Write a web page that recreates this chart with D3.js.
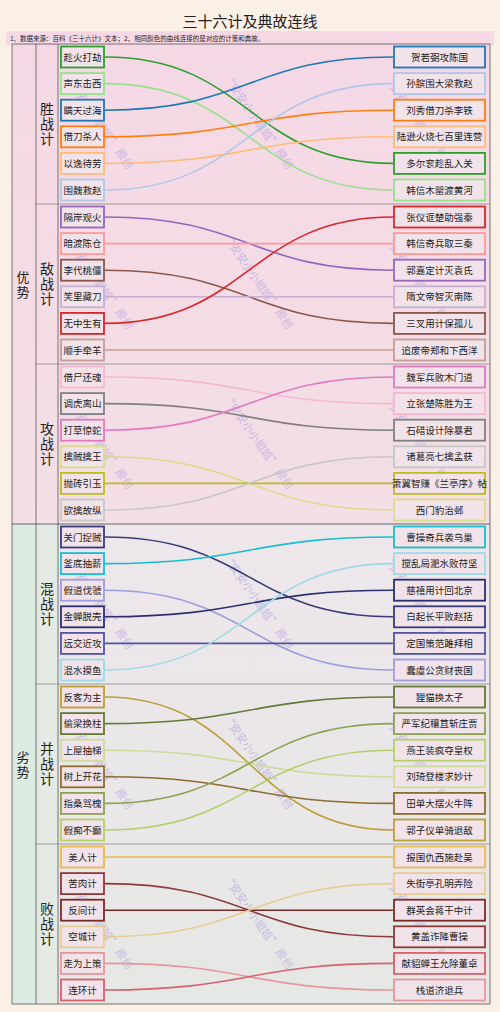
<!DOCTYPE html>
<html><head><meta charset="utf-8">
<script src="https://cdn.jsdelivr.net/npm/d3@7"></script>
<style>body{margin:0;background:#fbf0e6}text{font-family:"Noto Sans CJK SC",sans-serif}</style>
</head><body>
<script>
var sides = ["优势", "劣势"];
var groups = ["胜战计", "敌战计", "攻战计", "混战计", "并战计", "败战计"];
var stratagems = [
  ["趁火打劫", "声东击西", "瞒天过海", "借刀杀人", "以逸待劳", "围魏救赵"],
  ["隔岸观火", "暗渡陈仓", "李代桃僵", "笑里藏刀", "无中生有", "顺手牵羊"],
  ["借尸还魂", "调虎离山", "打草惊蛇", "擒贼擒王", "抛砖引玉", "欲擒故纵"],
  ["关门捉贼", "釜底抽薪", "假道伐虢", "金蝉脱壳", "远交近攻", "混水摸鱼"],
  ["反客为主", "偷梁换柱", "上屋抽梯", "树上开花", "指桑骂槐", "假痴不癫"],
  ["美人计", "苦肉计", "反间计", "空城计", "走为上策", "连环计"]
];
var stories = [
  ["贺若弼攻陈国", "孙膑围大梁救赵", "刘秀借刀杀李铁", "陆逊火烧七百里连营", "多尔衮趁乱入关", "韩信木罂渡黄河"],
  ["张仪诓楚助强秦", "韩信奇兵取三秦", "郭嘉定计灭袁氏", "隋文帝智灭南陈", "三叉用计保孤儿", "追废帝郑和下西洋"],
  ["魏军兵败木门道", "立张楚陈胜为王", "石碏设计除暴君", "诸葛亮七擒孟获", "萧翼智赚《兰亭序》帖", "西门豹治邺"],
  ["曹操奇兵袭乌巢", "搅乱局淝水败苻坚", "慈禧用计回北京", "白起长平败赵括", "定国策范雎拜相", "蠢虞公贪财丧国"],
  ["狸猫换太子", "严军纪穰苴斩庄贾", "燕王装疯夺皇权", "刘琦登楼求妙计", "田单大摆火牛阵", "郭子仪单骑退敌"],
  ["报国仇西施赴吴", "失街亭孔明弄险", "群英会蒋干中计", "黄盖诈降曹操", "献貂蝉王允除董卓", "栈道济退兵"]
];
// index of the story each stratagem links to
var links = [
  [4, 5, 0, 2, 3, 1],
  [2, 1, 4, 3, 0, 5],
  [1, 2, 0, 5, 4, 3],
  [3, 0, 5, 2, 4, 1],
  [5, 0, 3, 4, 1, 2],
  [0, 3, 2, 1, 5, 4]
];
var colors = [
  ["#2ca02c", "#98df8a", "#1f77b4", "#ff7f0e", "#ffbb78", "#aec7e8"],
  ["#9467bd", "#ff9896", "#8c564b", "#c5b0d5", "#d62728", "#c49c94"],
  ["#f7b6d2", "#7f7f7f", "#e377c2", "#dbdb8d", "#bcbd22", "#c7c7c7"],
  ["#393b79", "#17becf", "#9c9ede", "#2b2f6e", "#5254a3", "#9edae5"],
  ["#bd9e39", "#637939", "#cedb9c", "#8c6d31", "#8ca252", "#b5cf6b"],
  ["#e7ba52", "#8c3a3a", "#7b2a2a", "#e7cb94", "#e7969c", "#d6616b"]
];

var W = 500, H = 1012, top0 = 44, gh = 160, rowH = 26.6;
var svg = d3.select("body").append("svg").attr("width", W).attr("height", H);
var defs = svg.append("defs");
var g1 = defs.append("linearGradient").attr("id", "gTop").attr("x1", 0).attr("x2", 0).attr("y1", 0).attr("y2", 1);
g1.append("stop").attr("offset", 0).attr("stop-color", "#f6d8e5");
g1.append("stop").attr("offset", 1).attr("stop-color", "#f3dfe6");
var g2 = defs.append("linearGradient").attr("id", "gBot").attr("x1", 0).attr("x2", 0).attr("y1", 0).attr("y2", 1);
g2.append("stop").attr("offset", 0).attr("stop-color", "#eee6eb");
g2.append("stop").attr("offset", 1).attr("stop-color", "#e6e8e5");

svg.append("rect").attr("width", W).attr("height", H).attr("fill", "#fbf0e6");
svg.append("text").attr("x", 250).attr("y", 27).attr("text-anchor", "middle")
  .attr("font-size", 15).attr("fill", "#222").text("三十六计及典故连线");
svg.append("rect").attr("x", 6).attr("y", 31).attr("width", 488).attr("height", 14).attr("fill", "#f6d8e5");
svg.append("text").attr("x", 10).attr("y", 41).attr("font-size", 6.5).attr("fill", "#222")
  .text("1、数据来源：百科《三十六计》文本；2、相同颜色的曲线连接的是对应的计策和典故。");

var y = d3.scaleLinear().domain([0, 6]).range([top0, top0 + 6 * gh]);
var rowY = function (gi, ri) { return y(gi) + 13 + ri * rowH; };

// backgrounds
svg.append("rect").attr("x", 12).attr("y", y(0)).attr("width", 478).attr("height", 3 * gh).attr("fill", "url(#gTop)");
svg.append("rect").attr("x", 12).attr("y", y(3)).attr("width", 478).attr("height", 3 * gh).attr("fill", "url(#gBot)");
svg.append("rect").attr("x", 12).attr("y", y(3)).attr("width", 24).attr("height", 3 * gh).attr("fill", "#dcece3");
svg.append("rect").attr("x", 36).attr("y", y(3)).attr("width", 22).attr("height", 3 * gh).attr("fill", "#e4ebe4");

// watermarks
var wm = [];
groups.forEach(function (g, gi) { [95, 255, 415].forEach(function (x) { wm.push({x: x, y: y(gi) + 80}); }); });
svg.selectAll(".wm").data(wm).enter().append("text")
  .attr("transform", function (d) { return "translate(" + d.x + "," + d.y + ") rotate(55)"; })
  .attr("text-anchor", "middle").attr("font-size", 11).attr("fill", "#b9a9e0").attr("opacity", 0.7)
  .text("“安安小小姐姐” 原创");

// grid lines
var line = function (x1, y1, x2, y2, c) {
  svg.append("line").attr("x1", x1).attr("y1", y1).attr("x2", x2).attr("y2", y2).attr("stroke", c || "#555").attr("stroke-width", 0.8);
};
line(12, y(0), 490, y(0)); line(12, y(6), 490, y(6));
line(12, y(0), 12, y(6)); line(490, y(0), 490, y(6));
line(36, y(0), 36, y(6)); line(58, y(0), 58, y(6));
d3.range(1, 6).forEach(function (i) { line(i === 3 ? 12 : 36, y(i), 490, y(i), i === 3 ? "#444" : "#888"); });

sides.forEach(function (s, i) {
  svg.append("text").attr("x", 23).attr("font-size", 13).attr("text-anchor", "middle").attr("fill", "#222")
    .selectAll("tspan").data(s.split("")).enter().append("tspan")
    .attr("x", 23).attr("y", function (d, k) { return y(i * 3 + 1.5) - 2 + k * 15; }).text(function (d) { return d; });
});
groups.forEach(function (g, gi) {
  svg.append("text").attr("font-size", 14).attr("text-anchor", "middle").attr("fill", "#222")
    .selectAll("tspan").data(g.split("")).enter().append("tspan")
    .attr("x", 47).attr("y", function (d, k) { return y(gi + 0.5) - 10 + k * 15; }).text(function (d) { return d; });
});

var link = d3.linkHorizontal();
var items = [];
stratagems.forEach(function (row, gi) {
  row.forEach(function (s, ri) {
    items.push({gi: gi, ri: ri, name: s, story: stories[gi][links[gi][ri]], si: links[gi][ri], color: colors[gi][ri]});
  });
});

svg.selectAll(".lk").data(items).enter().append("path")
  .attr("d", function (d) { return link({source: [105, rowY(d.gi, d.ri)], target: [393, rowY(d.gi, d.si)]}); })
  .attr("fill", "none").attr("stroke", function (d) { return d.color; }).attr("stroke-width", 1.6);

var box = function (cls, x0, w, yf, tf) {
  var sel = svg.selectAll("." + cls).data(items).enter().append("g");
  sel.append("rect").attr("x", x0).attr("y", function (d) { return yf(d) - 10.5; })
    .attr("width", w).attr("height", 21).attr("fill", "#f1e3e9")
    .attr("stroke", function (d) { return d.color; }).attr("stroke-width", 1.8);
  sel.append("text").attr("x", x0 + w / 2).attr("y", function (d) { return yf(d) + 3.5; })
    .attr("text-anchor", "middle").attr("font-size", 9.5).attr("fill", "#222").text(tf);
};
box("lb", 61, 43, function (d) { return rowY(d.gi, d.ri); }, function (d) { return d.name; });
box("rb", 394, 91, function (d) { return rowY(d.gi, d.si); }, function (d) { return d.story; });
</script>
</body></html>
